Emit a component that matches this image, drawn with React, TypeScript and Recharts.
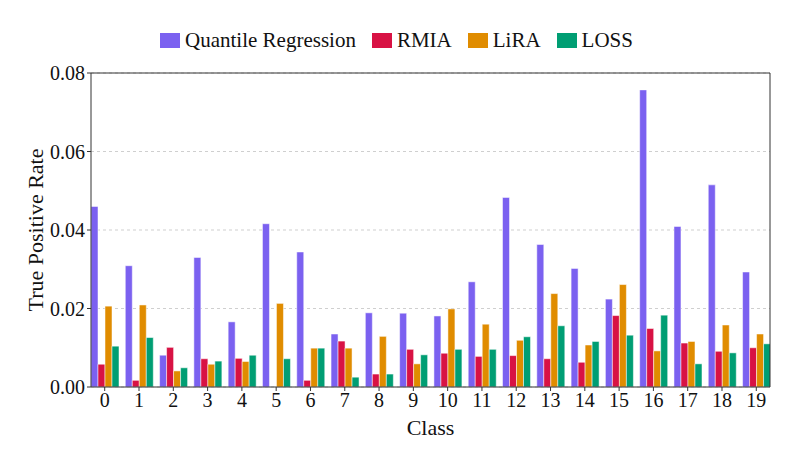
import React from 'react';
import {
  BarChart,
  Bar,
  XAxis,
  YAxis,
  CartesianGrid,
  ReferenceLine,
} from 'recharts';

const classes = [0, 1, 2, 3, 4, 5, 6, 7, 8, 9, 10, 11, 12, 13, 14, 15, 16, 17, 18, 19];

const quantile = [0.046, 0.0309, 0.0081, 0.033, 0.0166, 0.0416, 0.0344, 0.0135, 0.0189, 0.0188,
  0.0181, 0.0268, 0.0483, 0.0363, 0.0302, 0.0224, 0.0757, 0.0409, 0.0515, 0.0293];
const rmia = [0.0058, 0.0017, 0.0101, 0.0072, 0.0073, 0, 0.0017, 0.0117, 0.0033, 0.0096,
  0.0086, 0.0078, 0.008, 0.0072, 0.0063, 0.0182, 0.0149, 0.0112, 0.0091, 0.01];
const lira = [0.0206, 0.0209, 0.0041, 0.0058, 0.0065, 0.0213, 0.0099, 0.0099, 0.0129, 0.0059,
  0.0199, 0.016, 0.0119, 0.0238, 0.0107, 0.0261, 0.0092, 0.0116, 0.0158, 0.0135];
const loss = [0.0104, 0.0126, 0.0049, 0.0066, 0.0081, 0.0072, 0.0099, 0.0025, 0.0033, 0.0082,
  0.0096, 0.0096, 0.0128, 0.0156, 0.0116, 0.0132, 0.0183, 0.0059, 0.0087, 0.011];

const yTicks = [0, 0.02, 0.04, 0.06, 0.08];

const SERIES = [
  { key: 'quantile', name: 'Quantile Regression', color: '#7b61f0' },
  { key: 'rmia', name: 'RMIA', color: '#d81244' },
  { key: 'lira', name: 'LiRA', color: '#e08c00' },
  { key: 'loss', name: 'LOSS', color: '#009e73' },
];

const data = classes.map((c, i) => ({
  cls: c,
  quantile: quantile[i],
  rmia: rmia[i],
  lira: lira[i],
  loss: loss[i],
}));

const FONT = '"Liberation Serif", "DejaVu Serif", serif';
const AXIS = '#333';

const Legend: React.FC = () => (
  <div style={{
    position: 'absolute', top: 28, left: 0, width: 793,
    display: 'flex', justifyContent: 'center', gap: 16,
    fontFamily: FONT, fontSize: 21, color: '#111',
  }}>
    {SERIES.map(s => (
      <div key={s.key} style={{ display: 'flex', alignItems: 'center', gap: 5 }}>
        <span style={{ width: 20, height: 15, background: s.color, display: 'inline-block' }} />
        <span>{s.name}</span>
      </div>
    ))}
  </div>
);

export default function App() {
  return (
    <div style={{ position: 'absolute', top: 0, left: 0, width: 793, height: 463, background: '#fff' }}>
      <Legend />
      <BarChart
        width={793}
        height={463}
        data={data}
        margin={{ top: 73, right: 23, bottom: 26, left: 31 }}
        barGap={0}
        barCategoryGap="10%"
      >
        <CartesianGrid vertical={false} strokeDasharray="3 3" stroke="#cfcfcf" />
        <XAxis
          type="number"
          dataKey="cls"
          domain={[-0.4, 19.4]}
          ticks={classes}
          interval={0}
          allowDataOverflow
          height={50}
          stroke={AXIS}
          tickSize={4}
          tick={{ fill: '#111', fontSize: 20, fontFamily: FONT }}
          label={({ viewBox }: any) => (
            <text x={viewBox.x + viewBox.width / 2} y={435} textAnchor="middle"
              style={{ fontFamily: FONT, fontSize: 22, fill: '#111' }}>Class</text>
          )}
        />
        <YAxis
          domain={[0, 0.08]}
          ticks={yTicks}
          width={60}
          stroke={AXIS}
          tickSize={4}
          tickFormatter={(v: number) => v.toFixed(2)}
          tick={{ fill: '#111', fontSize: 20, fontFamily: FONT }}
          label={({ viewBox }: any) => {
            const cy = viewBox.y + viewBox.height / 2;
            return (
              <text x={43} y={cy} textAnchor="middle" transform={`rotate(-90, 43, ${cy})`}
                style={{ fontFamily: FONT, fontSize: 22, fill: '#111' }}>True Positive Rate</text>
            );
          }}
        />
        <ReferenceLine y={0.08} stroke={AXIS} />
        <ReferenceLine x={19.4} stroke={AXIS} />
        {SERIES.map(s => (
          <Bar key={s.key} dataKey={s.key} name={s.name} fill={s.color}
            stroke="#fff" strokeWidth={0.5} isAnimationActive={false} />
        ))}
      </BarChart>
    </div>
  );
}
